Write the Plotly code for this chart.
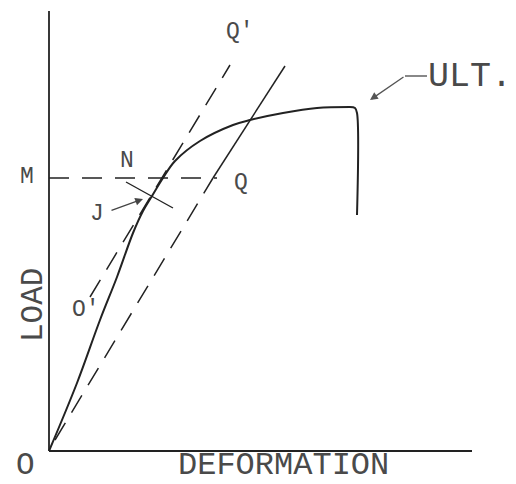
import plotly.graph_objects as go

# Coordinates in arbitrary deformation / load units (origin at O)
curve_x = [0, 28, 51, 68, 84, 94, 103, 114, 126, 151, 184, 201, 234, 268, 301, 306, 308, 308]
curve_y = [0, 68, 131, 174, 218, 240, 255, 273, 290, 310, 326, 331, 338, 343, 344, 343, 338, 236]

oq_prime_x = [41, 181]          # dashed line O' -> Q'
oq_prime_y = [154, 386]
oq_dash_x = [6, 164]            # dashed line O -> Q
oq_dash_y = [11, 273]
oq_solid_x = [164, 236]         # solid continuation above Q
oq_solid_y = [273, 385]
m_x = [0, 168]                  # load level M
m_y = [273, 273]
jn_x = [77, 124]                # short line through J towards N
jn_y = [269, 243]
ult_tick_x = [356, 378]
ult_tick_y = [375, 375]

labels = ["Q'", "N", "M", "Q", "J", "O'"]
labels_x = [191, 78, -22, 192, 48, 37]
labels_y = [419, 290, 274, 268, 237, 141]

INK = "#222222"
TXT = "#4a4a4a"
FONT = "Liberation Mono"

fig = go.Figure()

def line(x, y, dash="solid", width=1.6, color=INK, shape="linear"):
    fig.add_trace(go.Scatter(x=x, y=y, mode="lines", hoverinfo="skip",
                             line=dict(color=color, width=width, dash=dash, shape=shape)))

# axes
line([0, 0], [440, 0], width=1.8)
line([0, 423], [0, 0], width=1.8)

# main load-deformation curve
line(curve_x[:15], curve_y[:15], width=2.0, shape="spline")
line(curve_x[14:], curve_y[14:], width=2.0, shape="spline")

line(oq_prime_x, oq_prime_y, dash="20px,12px", width=1.5)
line(oq_dash_x, oq_dash_y, dash="20px,12px", width=1.5)
line(oq_solid_x, oq_solid_y, width=1.5)
line(m_x, m_y, dash="20px,13px", width=1.5)
line(jn_x, jn_y, width=1.4)
line(ult_tick_x, ult_tick_y, width=1.4, color="#555555")

for t, x, y in zip(labels, labels_x, labels_y):
    fig.add_annotation(x=x, y=y, text=t, showarrow=False,
                       font=dict(family=FONT, size=23, color=TXT))

fig.add_annotation(x=-24, y=-14, text="O", showarrow=False,
                   font=dict(family=FONT, size=31, color=TXT))
fig.add_annotation(x=234, y=-14, text="DEFORMATION", showarrow=False,
                   font=dict(family=FONT, size=32, color=TXT))
fig.add_annotation(x=-16, y=146, text="LOAD", showarrow=False, textangle=-90,
                   font=dict(family=FONT, size=31, color=TXT))
fig.add_annotation(x=377, y=374, text="ULT.", showarrow=False, xanchor="left",
                   font=dict(family=FONT, size=35, color=TXT))

# arrows
fig.add_annotation(x=94, y=252, ax=61, ay=240, axref="x", ayref="y", xref="x", yref="y",
                   text="", showarrow=True, arrowhead=2, arrowsize=1.2, arrowwidth=1.3,
                   arrowcolor="#444444")
fig.add_annotation(x=321, y=351, ax=356, ay=375, axref="x", ayref="y", xref="x", yref="y",
                   text="", showarrow=True, arrowhead=2, arrowsize=1.2, arrowwidth=1.3,
                   arrowcolor="#555555")

# page body has an 8px margin: size and range the figure to land on the same pixels
fig.update_layout(
    width=508, height=476, margin=dict(l=0, r=0, t=0, b=0),
    paper_bgcolor="white", plot_bgcolor="white", showlegend=False,
    xaxis=dict(range=[-41, 467], visible=False, fixedrange=True),
    yaxis=dict(range=[-33, 443], visible=False, fixedrange=True),
)

fig.write_html("out.html")
